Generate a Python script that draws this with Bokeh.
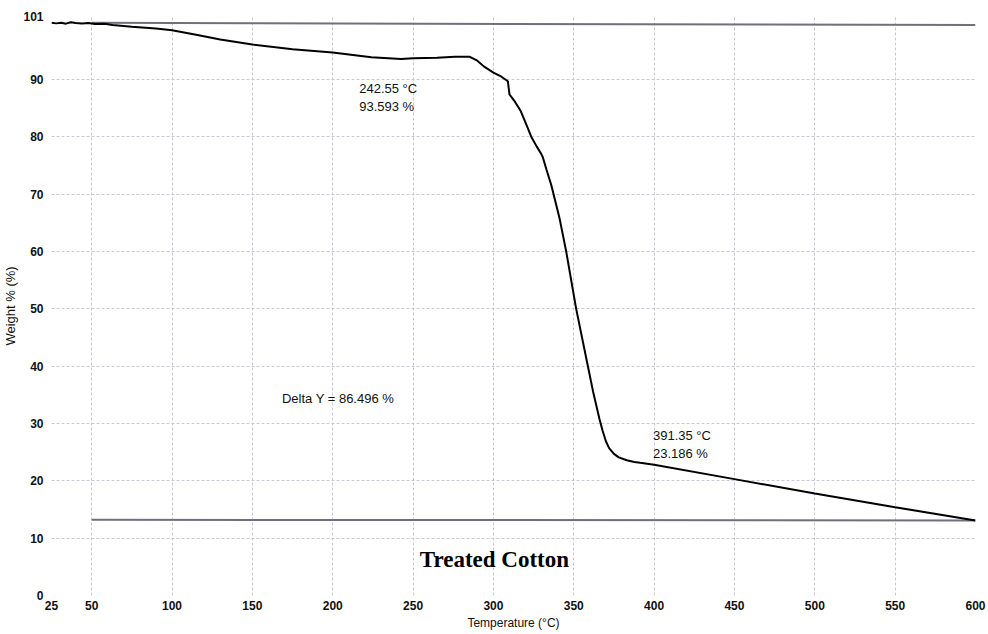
import math
from bokeh.plotting import figure
from bokeh.models import FixedTicker, Label, Range1d
from bokeh.embed import file_html
from bokeh.resources import INLINE

# Temperature (°C) and weight (%)
temperature = [25, 28, 31, 34, 37, 40, 44, 48, 52, 58, 63, 75, 90, 100, 115, 130,
               150, 175, 200, 224, 242.55, 250, 265, 276, 285, 290, 294, 300, 305,
               309, 310, 313, 317, 320, 323.6, 327, 329.8, 330.8, 333, 336, 341,
               345.3, 351.5, 358.8, 362, 364, 366, 368, 370, 372, 375, 378, 383,
               387.7, 391.35, 400, 450, 500, 550, 600]
weight = [99.9, 99.8, 99.9, 99.75, 100.0, 99.85, 99.8, 99.85, 99.7, 99.75, 99.5,
          99.2, 98.9, 98.6, 97.8, 97.0, 96.1, 95.3, 94.7, 93.9, 93.6, 93.7, 93.8,
          94.0, 94.0, 93.3, 92.3, 91.2, 90.5, 89.7, 87.4, 86.3, 84.5, 82.5, 80.0,
          78.3, 77.0, 76.4, 74.3, 71.6, 66.0, 60.0, 50.0, 40.0, 35.6, 33.2, 30.8,
          28.7, 26.9, 25.7, 24.7, 24.1, 23.6, 23.3, 23.15, 22.8, 20.3, 17.8, 15.4,
          13.1]

# Delta Y reference lines
upper_x = [50, 600]
upper_y = [99.9, 99.5]
lower_x = [50, 600]
lower_y = [13.2, 13.1]

x_ticks = [25, 50, 100, 150, 200, 250, 300, 350, 400, 450, 500, 550, 600]
y_ticks = [0, 10, 20, 30, 40, 50, 60, 70, 80, 90, 101]

p = figure(width=988, height=632, output_backend="svg", toolbar_location=None,
           x_range=Range1d(25, 600), y_range=Range1d(0, 101),
           min_border_left=49, min_border_right=13, min_border_top=16,
           min_border_bottom=37)
p.outline_line_color = None
p.background_fill_color = "white"

p.xaxis.ticker = FixedTicker(ticks=x_ticks)
p.yaxis.ticker = FixedTicker(ticks=y_ticks)
for ax in (p.xaxis, p.yaxis):
    ax.axis_line_color = None
    ax.major_tick_line_color = None
    ax.minor_tick_line_color = None
    ax.major_tick_out = 0
    ax.major_tick_in = 0
    ax.minor_tick_out = 0
    ax.minor_tick_in = 0
    ax.major_label_text_font = "Liberation Sans"
    ax.major_label_text_font_style = "bold"
    ax.major_label_text_font_size = "12px"
    ax.major_label_text_color = "#111111"
    ax.axis_label_text_font = "Liberation Sans"
    ax.axis_label_text_font_style = "normal"
    ax.axis_label_text_color = "#111111"
p.xaxis.axis_label_text_font_size = "12px"
p.yaxis.axis_label_text_font_size = "13px"
p.xaxis.major_label_standoff = 5
p.yaxis.major_label_standoff = 8
p.xaxis.axis_label = "Temperature (°C)"
p.yaxis.axis_label = "Weight % (%)"
p.xaxis.axis_label_standoff = 3
p.yaxis.axis_label_standoff = 2

p.grid.grid_line_color = "#cdc6da"
p.grid.grid_line_dash = "3 2"
p.grid.grid_line_width = 1

p.line(upper_x, upper_y, line_color="#6f6f80", line_width=2)
p.line(lower_x, lower_y, line_color="#6f6f80", line_width=2)
p.line(temperature, weight, line_color="black", line_width=2)

font = "Liberation Sans"
p.add_layout(Label(x=216.5, y=89.8, text="242.55 °C\n93.593 %", text_font=font,
                   text_font_size="13px", text_baseline="top", text_color="#111111"))
p.add_layout(Label(x=399.3, y=29.2, text="391.35 °C\n23.186 %", text_font=font,
                   text_font_size="13px", text_baseline="top", text_color="#111111"))
p.add_layout(Label(x=168.4, y=34.3, text="Delta Y = 86.496 %", text_font=font,
                   text_font_size="13px", text_baseline="middle", text_color="#111111"))
p.add_layout(Label(x=300.6, y=6.2, text="Treated Cotton", text_font="Liberation Serif",
                   text_font_size="23px", text_font_style="bold", text_align="center",
                   text_baseline="middle", text_color="black"))
p.add_layout(Label(x=-36, y=67.2, x_units="screen", text="———", text_font=font,
                   angle=math.pi / 2, text_font_size="12px", text_align="center",
                   text_baseline="middle", text_color="#111111"))

open("out.html", "w").write(file_html(p, INLINE))
